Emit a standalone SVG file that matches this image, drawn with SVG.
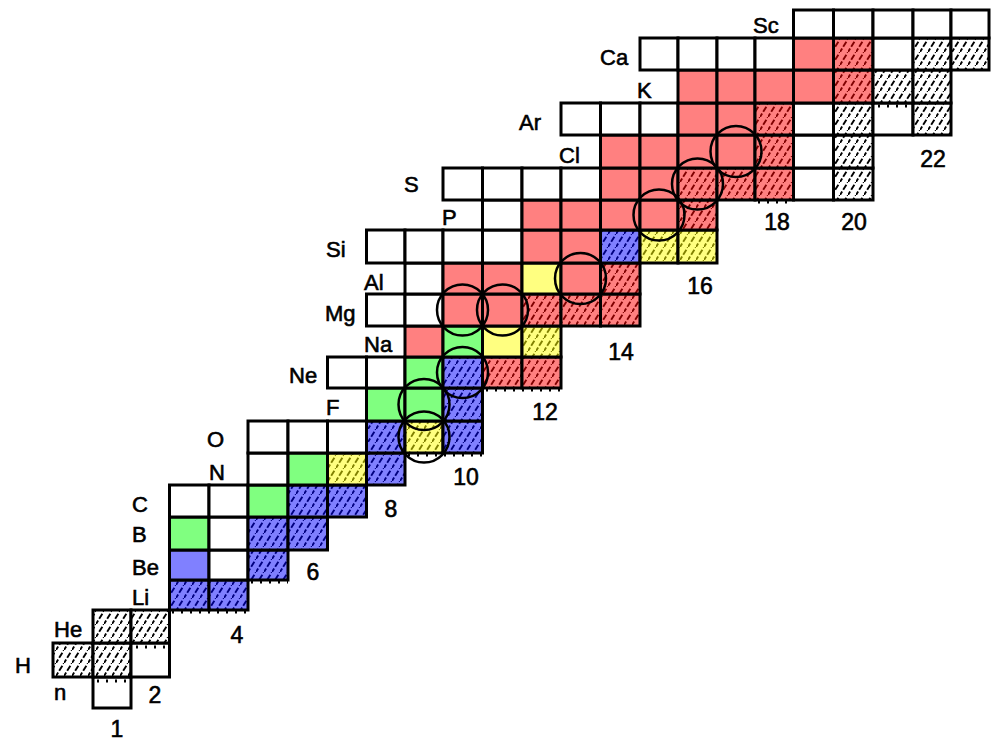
<svg xmlns="http://www.w3.org/2000/svg" width="993" height="741" viewBox="0 0 993 741">
  <style>
    rect { stroke: #000; stroke-width: 3; }
    .w { fill: #fff; }
    .r { fill: #ff8080; }
    .g { fill: #80ff80; }
    .b { fill: #8080ff; }
    .y { fill: #ffff80; }
    .kh { fill: url(#hk); }
    .rh { fill: url(#hr); }
    .bh { fill: url(#hb); }
    .yh { fill: url(#hy); }
    .ring { fill: none; stroke: #000; stroke-width: 2.5; }
    .tick { fill: none; stroke: #000; stroke-width: 3; stroke-dasharray: 2 7; }
    .sym { font-family: "Liberation Sans", Arial, sans-serif; font-size: 22px; fill: #000; stroke: #000; stroke-width: 0.6; }
    .num { font-family: "Liberation Sans", Arial, sans-serif; font-size: 23px; fill: #000; stroke: #000; stroke-width: 0.6; text-anchor: middle; }
  </style>
  <defs>
    <!-- dashed diagonal hatching for stable nuclides -->
    <pattern id="hk" patternUnits="userSpaceOnUse" width="8" height="13">
      <rect x="0" y="0" width="8" height="13" style="fill:#fff;stroke:none"/>
      <path d="M-1,14.6 L9,-1.6" stroke="#000" stroke-width="1.9" stroke-dasharray="6 2"/>
    </pattern>
    <pattern id="hr" patternUnits="userSpaceOnUse" width="8" height="13">
      <rect x="0" y="0" width="8" height="13" style="fill:#ff8080;stroke:none"/>
      <path d="M-1,14.6 L9,-1.6" stroke="#800000" stroke-width="1.9" stroke-dasharray="6 2"/>
    </pattern>
    <pattern id="hb" patternUnits="userSpaceOnUse" width="8" height="13">
      <rect x="0" y="0" width="8" height="13" style="fill:#8080ff;stroke:none"/>
      <path d="M-1,14.6 L9,-1.6" stroke="#000080" stroke-width="1.9" stroke-dasharray="6 2"/>
    </pattern>
    <pattern id="hy" patternUnits="userSpaceOnUse" width="8" height="13">
      <rect x="0" y="0" width="8" height="13" style="fill:#ffff80;stroke:none"/>
      <path d="M-1,14.6 L9,-1.6" stroke="#808000" stroke-width="1.9" stroke-dasharray="6 2"/>
    </pattern>
  </defs>

  <rect x="0" y="0" width="993" height="741" style="fill:#fff;stroke:none"/>

  <!-- nuclide cells, one row per element (Z), columns by neutron number N -->
  <g id="row-n">
    <rect class="w" x="93" y="677" width="38" height="31"/>
  </g>
  <g id="row-H">
    <rect class="kh" x="53" y="643" width="40" height="34"/>
    <rect class="kh" x="93" y="643" width="38" height="34"/>
    <rect class="w" x="131" y="643" width="38.5" height="34"/>
  </g>
  <g id="row-He">
    <rect class="kh" x="93" y="610" width="38" height="33"/>
    <rect class="kh" x="131" y="610" width="38.5" height="33"/>
  </g>
  <g id="row-Li">
    <rect class="bh" x="169.5" y="580" width="39.5" height="30"/>
    <rect class="bh" x="209" y="580" width="39" height="30"/>
  </g>
  <g id="row-Be">
    <rect class="b" x="169.5" y="550" width="39.5" height="30"/>
    <rect class="w" x="209" y="550" width="39" height="30"/>
    <rect class="bh" x="248" y="550" width="40" height="30"/>
  </g>
  <g id="row-B">
    <rect class="g" x="169.5" y="517" width="39.5" height="33"/>
    <rect class="w" x="209" y="517" width="39" height="33"/>
    <rect class="bh" x="248" y="517" width="40" height="33"/>
    <rect class="bh" x="288" y="517" width="39.5" height="33"/>
  </g>
  <g id="row-C">
    <rect class="w" x="169.5" y="485" width="39.5" height="32"/>
    <rect class="w" x="209" y="485" width="39" height="32"/>
    <rect class="g" x="248" y="485" width="40" height="32"/>
    <rect class="bh" x="288" y="485" width="39.5" height="32"/>
    <rect class="bh" x="327.5" y="485" width="39" height="32"/>
  </g>
  <g id="row-N">
    <rect class="w" x="248" y="453" width="40" height="32"/>
    <rect class="g" x="288" y="453" width="39.5" height="32"/>
    <rect class="yh" x="327.5" y="453" width="39" height="32"/>
    <rect class="bh" x="366.5" y="453" width="38.5" height="32"/>
  </g>
  <g id="row-O">
    <rect class="w" x="248" y="421" width="40" height="32"/>
    <rect class="w" x="288" y="421" width="39.5" height="32"/>
    <rect class="w" x="327.5" y="421" width="39" height="32"/>
    <rect class="bh" x="366.5" y="421" width="38.5" height="32"/>
    <rect class="yh" x="405" y="421" width="38" height="32"/>
    <rect class="bh" x="443" y="421" width="39.5" height="32"/>
  </g>
  <g id="row-F">
    <rect class="g" x="366.5" y="388" width="38.5" height="33"/>
    <rect class="g" x="405" y="388" width="38" height="33"/>
    <rect class="bh" x="443" y="388" width="39.5" height="33"/>
  </g>
  <g id="row-Ne">
    <rect class="w" x="327.5" y="357" width="39" height="31"/>
    <rect class="w" x="366.5" y="357" width="38.5" height="31"/>
    <rect class="g" x="405" y="357" width="38" height="31"/>
    <rect class="bh" x="443" y="357" width="39.5" height="31"/>
    <rect class="rh" x="482.5" y="357" width="39.5" height="31"/>
    <rect class="rh" x="522" y="357" width="39" height="31"/>
  </g>
  <g id="row-Na">
    <rect class="r" x="405" y="326" width="38" height="31"/>
    <rect class="g" x="443" y="326" width="39.5" height="31"/>
    <rect class="y" x="482.5" y="326" width="39.5" height="31"/>
    <rect class="yh" x="522" y="326" width="39" height="31"/>
  </g>
  <g id="row-Mg">
    <rect class="w" x="366.5" y="294" width="38.5" height="32"/>
    <rect class="w" x="405" y="294" width="38" height="32"/>
    <rect class="r" x="443" y="294" width="39.5" height="32"/>
    <rect class="r" x="482.5" y="294" width="39.5" height="32"/>
    <rect class="rh" x="522" y="294" width="39" height="32"/>
    <rect class="rh" x="561" y="294" width="39.5" height="32"/>
    <rect class="rh" x="600.5" y="294" width="39.5" height="32"/>
  </g>
  <g id="row-Al">
    <rect class="w" x="405" y="263" width="38" height="31"/>
    <rect class="r" x="443" y="263" width="39.5" height="31"/>
    <rect class="r" x="482.5" y="263" width="39.5" height="31"/>
    <rect class="y" x="522" y="263" width="39" height="31"/>
    <rect class="r" x="561" y="263" width="39.5" height="31"/>
    <rect class="rh" x="600.5" y="263" width="39.5" height="31"/>
  </g>
  <g id="row-Si">
    <rect class="w" x="366.5" y="230" width="38.5" height="33"/>
    <rect class="w" x="405" y="230" width="38" height="33"/>
    <rect class="w" x="443" y="230" width="39.5" height="33"/>
    <rect class="w" x="482.5" y="230" width="39.5" height="33"/>
    <rect class="r" x="522" y="230" width="39" height="33"/>
    <rect class="r" x="561" y="230" width="39.5" height="33"/>
    <rect class="bh" x="600.5" y="230" width="39.5" height="33"/>
    <rect class="yh" x="640" y="230" width="38" height="33"/>
    <rect class="yh" x="678" y="230" width="39" height="33"/>
  </g>
  <g id="row-P">
    <rect class="w" x="482.5" y="200" width="39.5" height="30"/>
    <rect class="r" x="522" y="200" width="39" height="30"/>
    <rect class="r" x="561" y="200" width="39.5" height="30"/>
    <rect class="r" x="600.5" y="200" width="39.5" height="30"/>
    <rect class="r" x="640" y="200" width="38" height="30"/>
    <rect class="rh" x="678" y="200" width="39" height="30"/>
  </g>
  <g id="row-S">
    <rect class="w" x="443" y="168" width="39.5" height="32"/>
    <rect class="w" x="482.5" y="168" width="39.5" height="32"/>
    <rect class="w" x="522" y="168" width="39" height="32"/>
    <rect class="w" x="561" y="168" width="39.5" height="32"/>
    <rect class="r" x="600.5" y="168" width="39.5" height="32"/>
    <rect class="r" x="640" y="168" width="38" height="32"/>
    <rect class="rh" x="678" y="168" width="39" height="32"/>
    <rect class="rh" x="717" y="168" width="38" height="32"/>
    <rect class="rh" x="755" y="168" width="38.5" height="32"/>
    <rect class="w" x="793.5" y="168" width="40" height="32"/>
    <rect class="kh" x="833.5" y="168" width="39.5" height="32"/>
  </g>
  <g id="row-Cl">
    <rect class="r" x="600.5" y="135" width="39.5" height="33"/>
    <rect class="r" x="640" y="135" width="38" height="33"/>
    <rect class="r" x="678" y="135" width="39" height="33"/>
    <rect class="r" x="717" y="135" width="38" height="33"/>
    <rect class="rh" x="755" y="135" width="38.5" height="33"/>
    <rect class="w" x="793.5" y="135" width="40" height="33"/>
    <rect class="kh" x="833.5" y="135" width="39.5" height="33"/>
  </g>
  <g id="row-Ar">
    <rect class="w" x="561" y="103" width="39.5" height="32"/>
    <rect class="w" x="600.5" y="103" width="39.5" height="32"/>
    <rect class="w" x="640" y="103" width="38" height="32"/>
    <rect class="r" x="678" y="103" width="39" height="32"/>
    <rect class="r" x="717" y="103" width="38" height="32"/>
    <rect class="rh" x="755" y="103" width="38.5" height="32"/>
    <rect class="w" x="793.5" y="103" width="40" height="32"/>
    <rect class="kh" x="833.5" y="103" width="39.5" height="32"/>
    <rect class="w" x="873" y="103" width="40" height="32"/>
    <rect class="kh" x="913" y="103" width="38" height="32"/>
  </g>
  <g id="row-K">
    <rect class="r" x="678" y="70" width="39" height="33"/>
    <rect class="r" x="717" y="70" width="38" height="33"/>
    <rect class="r" x="755" y="70" width="38.5" height="33"/>
    <rect class="r" x="793.5" y="70" width="40" height="33"/>
    <rect class="rh" x="833.5" y="70" width="39.5" height="33"/>
    <rect class="kh" x="873" y="70" width="40" height="33"/>
    <rect class="kh" x="913" y="70" width="38" height="33"/>
  </g>
  <g id="row-Ca">
    <rect class="w" x="640" y="38" width="38" height="32"/>
    <rect class="w" x="678" y="38" width="39" height="32"/>
    <rect class="w" x="717" y="38" width="38" height="32"/>
    <rect class="w" x="755" y="38" width="38.5" height="32"/>
    <rect class="r" x="793.5" y="38" width="40" height="32"/>
    <rect class="rh" x="833.5" y="38" width="39.5" height="32"/>
    <rect class="w" x="873" y="38" width="40" height="32"/>
    <rect class="kh" x="913" y="38" width="38" height="32"/>
    <rect class="kh" x="951" y="38" width="38" height="32"/>
  </g>
  <g id="row-Sc">
    <rect class="w" x="793.5" y="10" width="40" height="28"/>
    <rect class="w" x="833.5" y="10" width="39.5" height="28"/>
    <rect class="w" x="873" y="10" width="40" height="28"/>
    <rect class="w" x="913" y="10" width="38" height="28"/>
    <rect class="w" x="951" y="10" width="38" height="28"/>
  </g>

  <!-- dotted edge marks along some cell borders -->
  <g id="edge-marks">
    <path class="tick" d="M97,681 H131"/>
    <path class="tick" d="M136,647 H169"/>
    <path class="tick" d="M172,612 H248"/>
    <path class="tick" d="M251,582 H288"/>
    <path class="tick" d="M408,455 H482"/>
    <path class="tick" d="M486,390 H561"/>
    <path class="tick" d="M758,202 H793"/>
    <path class="tick" d="M878,106 H913"/>
  </g>

  <!-- circled nuclides -->
  <g id="circles">
    <circle class="ring" cx="462.5" cy="310" r="25.5"/>
    <circle class="ring" cx="502.5" cy="310" r="25.5"/>
    <circle class="ring" cx="580.5" cy="278.5" r="25.5"/>
    <circle class="ring" cx="659" cy="215" r="25.5"/>
    <circle class="ring" cx="697.5" cy="184" r="25.5"/>
    <circle class="ring" cx="736" cy="151.5" r="25.5"/>
    <circle class="ring" cx="462.5" cy="372.5" r="25.5"/>
    <circle class="ring" cx="424" cy="404.5" r="25.5"/>
    <circle class="ring" cx="424" cy="437" r="25.5"/>
  </g>

  <!-- element symbols -->
  <g id="symbols">
    <text class="sym" x="753" y="33">Sc</text>
    <text class="sym" x="600" y="65">Ca</text>
    <text class="sym" x="637" y="98">K</text>
    <text class="sym" x="519" y="130">Ar</text>
    <text class="sym" x="559" y="163">Cl</text>
    <text class="sym" x="404" y="192">S</text>
    <text class="sym" x="442" y="225">P</text>
    <text class="sym" x="326" y="257">Si</text>
    <text class="sym" x="364" y="290">Al</text>
    <text class="sym" x="325" y="321">Mg</text>
    <text class="sym" x="364" y="352">Na</text>
    <text class="sym" x="289" y="383">Ne</text>
    <text class="sym" x="326" y="415">F</text>
    <text class="sym" x="207" y="447">O</text>
    <text class="sym" x="209" y="480">N</text>
    <text class="sym" x="132" y="512">C</text>
    <text class="sym" x="132" y="542">B</text>
    <text class="sym" x="132" y="575">Be</text>
    <text class="sym" x="132" y="605">Li</text>
    <text class="sym" x="54" y="637">He</text>
    <text class="sym" x="15" y="673">H</text>
    <text class="sym" x="54" y="700">n</text>
  </g>

  <!-- neutron numbers -->
  <g id="neutron-numbers">
    <text class="num" x="117" y="737">1</text>
    <text class="num" x="155" y="703">2</text>
    <text class="num" x="237" y="643">4</text>
    <text class="num" x="313" y="580">6</text>
    <text class="num" x="391" y="517">8</text>
    <text class="num" x="466" y="485">10</text>
    <text class="num" x="545" y="420">12</text>
    <text class="num" x="621" y="360">14</text>
    <text class="num" x="700" y="294">16</text>
    <text class="num" x="777" y="230">18</text>
    <text class="num" x="854" y="230">20</text>
    <text class="num" x="933" y="167">22</text>
  </g>
</svg>
